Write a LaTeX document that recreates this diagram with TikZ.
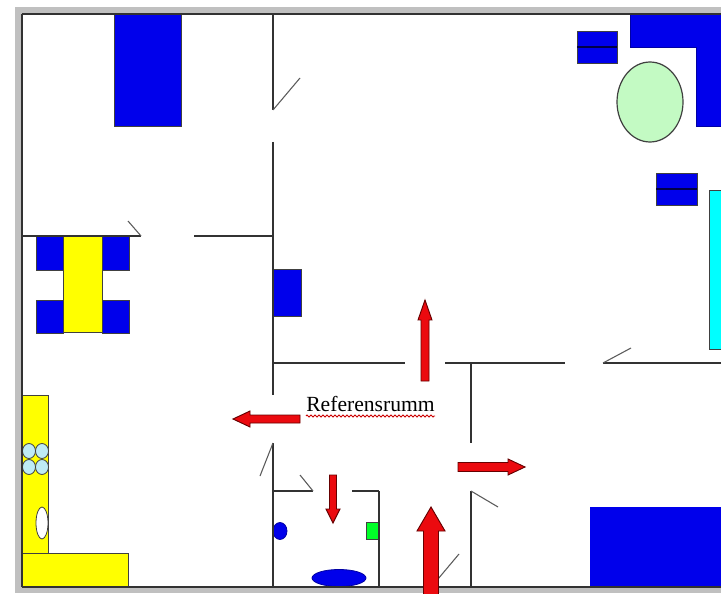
\documentclass[tikz,border=0pt]{standalone}
\usepackage{fontspec}
\setmainfont{Liberation Serif}
\usetikzlibrary{decorations.pathmorphing}
\definecolor{fblue}{RGB}{0,0,235}
\definecolor{fyellow}{RGB}{255,255,0}
\definecolor{fred}{RGB}{235,10,15}
\definecolor{wallc}{RGB}{50,50,50}
\definecolor{lightgrn}{RGB}{195,250,195}
\definecolor{lightcy}{RGB}{190,235,245}
\definecolor{fcyan}{RGB}{0,255,255}
\definecolor{divc}{RGB}{0,0,70}
\definecolor{fgreen}{RGB}{0,255,40}
\definecolor{fgrey}{RGB}{192,192,192}
\tikzset{
  wall/.style={draw=wallc,line width=1.05pt},
  door/.style={draw=wallc!80,line width=.8pt},
  furn/.style={draw=black!75,line width=.6pt},
  bluef/.style={furn,fill=fblue},
  yellowf/.style={furn,fill=fyellow},
  redarrow/.style={draw=black!60!red,line width=.7pt,fill=fred,line join=miter}
}
\newcommand{\rarrow}[7]{% tail x,y; angle; length; shaft half; head half; head len
  \begin{scope}[shift={(#1,#2)},rotate=#3]
    \path[redarrow] (0,-#5) -- ({#4-#7},-#5) -- ({#4-#7},-#6) -- (#4,0) -- ({#4-#7},#6) -- ({#4-#7},#5) -- (0,#5) -- cycle;
  \end{scope}}
\begin{document}
\begin{tikzpicture}[x=0.75pt,y=-0.75pt]
\useasboundingbox (0,0) rectangle (721,595);
\clip (0,0) rectangle (721,595);
\fill[white] (0,0) rectangle (721,595);
% grey frame
\fill[fgrey] (15,7) rectangle (721,593);
\fill[white] (22,14) rectangle (721,587);
% furniture
\path[bluef] (114,14) rectangle (181,126);
\path[bluef] (273,269) rectangle (301,316);
\path[bluef] (36,236) rectangle (63,270);
\path[bluef] (102,236) rectangle (129,270);
\path[bluef] (36,300) rectangle (63,333);
\path[bluef] (102,300) rectangle (129,333);
\path[yellowf] (63,236) rectangle (102,332);
\path[yellowf] (22,395) rectangle (48,553);
\path[yellowf] (22,553) rectangle (128,587);
\foreach \cx/\cy in {29/451,42/451,29/467,42/467}
  \path[furn,fill=lightcy] (\cx,\cy) ellipse [x radius=6.5,y radius=7.5];
\path[furn,fill=white] (42,523) ellipse [x radius=6,y radius=16];
\path[furn,fill=fblue,draw=fblue!70!black] (280,531) ellipse [x radius=7,y radius=8.5];
\path[furn,fill=fblue,draw=fblue!70!black] (339,578) ellipse [x radius=27,y radius=8.5];
\path[furn,fill=fgreen] (366,522) rectangle (379,539);
\path[furn,fill=fblue,draw=fblue] (590,507) rectangle (721,587);
\path[furn,fill=fcyan] (709,190) rectangle (722,349);
\path[bluef] (577,31) rectangle (617,63);
\draw[divc,line width=.9pt] (577,47) -- (617,47);
\path[bluef] (656,173) rectangle (697,205);
\draw[divc,line width=.9pt] (656,189) -- (697,189);
\path[furn,fill=fblue,draw=fblue!70!black] (630,14) -- (722,14) -- (722,126) -- (696,126) -- (696,47) -- (630,47) -- cycle;
\path[furn,line width=.9pt,fill=lightgrn] (650,102) ellipse [x radius=33,y radius=40];
% walls
\draw[wall] (22,14) -- (721,14);
\draw[wall] (22,14) -- (22,587);
\draw[wall,line width=1.4pt] (22,587) -- (721,587);
\draw[wall] (273,14) -- (273,110);
\draw[wall] (273,142) -- (273,395);
\draw[wall] (273,443) -- (273,587);
\draw[wall] (22,236) -- (141,236);
\draw[wall] (194,236) -- (273,236);
\draw[wall] (273,363) -- (405,363);
\draw[wall] (445,363) -- (565,363);
\draw[wall] (603,363) -- (721,363);
\draw[wall] (471,363) -- (471,443);
\draw[wall] (471,491) -- (471,587);
\draw[wall] (273,491) -- (313,491);
\draw[wall] (352,491) -- (379,491);
\draw[wall] (379,491) -- (379,587);
% doors
\draw[door] (273,110) -- (300,78);
\draw[door] (141,236) -- (128,221);
\draw[door] (273,443) -- (260,476);
\draw[door] (313,491) -- (300,475);
\draw[door] (603,363) -- (631,348);
\draw[door] (471,491) -- (498,507);
\draw[door] (438,579) -- (459,554);
% arrows
\rarrow{425}{381}{90}{81}{4}{7}{20}
\rarrow{300}{419}{180}{67}{4}{8}{17}
\rarrow{458}{467}{0}{67}{4.5}{8}{17}
\rarrow{333}{475}{-90}{48}{3.5}{7}{14}
\begin{scope}
\clip (0,0) rectangle (721,593);
\rarrow{431}{600}{90}{93}{7.5}{14}{24}
\end{scope}
% label
\node[inner sep=0pt,font=\fontsize{16.2pt}{18pt}\selectfont,anchor=center] (ref) at (370.5,404) {Referensrumm};
\draw[red!80!black,line width=.7pt,decorate,decoration={zigzag,segment length=3pt,amplitude=.8pt}] (306,416) -- (435,416);
\end{tikzpicture}
\end{document}
